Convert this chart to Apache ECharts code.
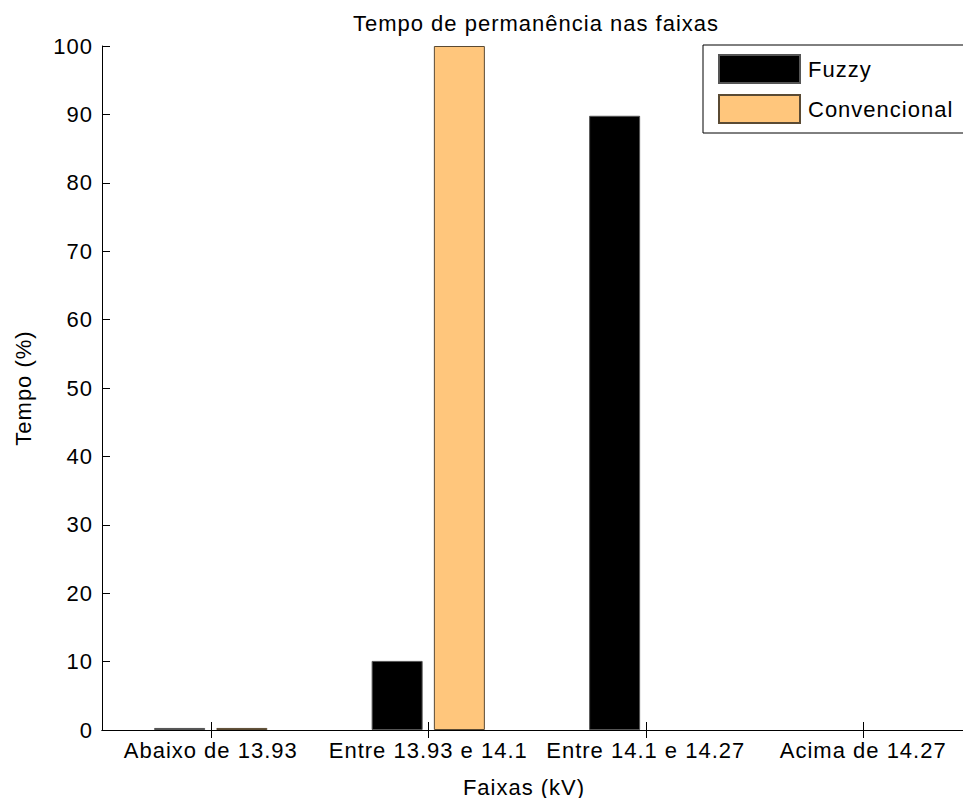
<!DOCTYPE html>
<html>
<head>
<meta charset="utf-8">
<script src="https://cdn.jsdelivr.net/npm/echarts@6/dist/echarts.min.js"></script>
<style>
html,body{margin:0;padding:0;background:#fff;overflow:hidden;}
#chart{width:963px;height:798px;}
#chart svg text{letter-spacing:1px;}
</style>
</head>
<body>
<div id="chart"></div>
<script>
const categories = ['Abaixo de 13.93', 'Entre 13.93 e 14.1', 'Entre 14.1 e 14.27', 'Acima de 14.27'];
const fuzzyValues = [0.3, 10.1, 89.8, 0];
const convencionalValues = [0.3, 100, 0, 0];
const seriesNames = ['Fuzzy', 'Convencional'];
const titleText = 'Tempo de permanência nas faixas';
const xAxisTitle = 'Faixas (kV)';
const yAxisTitle = 'Tempo (%)';

const FONT = 'Liberation Sans, Arial, Helvetica, sans-serif';
const FS = 22;
const chart = echarts.init(document.getElementById('chart'), null, {renderer: 'svg'});
const axisLine = {show: true, lineStyle: {color: '#000', width: 1}};
// zero-height bars draw no outline
const toData = vals => vals.map(v => v === 0 ? {value: v, itemStyle: {borderWidth: 0}} : v);
chart.setOption({
  animation: false,
  backgroundColor: '#fff',
  title: {
    text: titleText, left: 531, top: 7, textAlign: 'center',
    textStyle: {fontFamily: FONT, fontSize: FS, fontWeight: 'normal', color: '#000'}
  },
  legend: {
    orient: 'vertical', left: 703, top: 45,
    padding: [9, 40, 9, 15], itemGap: 10, itemWidth: 81, itemHeight: 28,
    backgroundColor: '#fff', borderColor: '#000', borderWidth: 1,
    textStyle: {fontFamily: FONT, fontSize: FS, color: '#000', padding: [0, 0, 0, 3]},
    icon: 'rect', data: seriesNames
  },
  grid: {left: 102, top: 46, width: 870, height: 684, containLabel: false, outerBoundsMode: 'none'},
  xAxis: [{
    type: 'category', data: categories, position: 'bottom',
    axisLine: axisLine,
    axisTick: {show: true, inside: true, length: 8, alignWithLabel: true, lineStyle: {color: '#000'}},
    axisLabel: {fontFamily: FONT, fontSize: FS, color: '#000', margin: 9, interval: 0},
    name: xAxisTitle, nameLocation: 'middle', nameGap: 46,
    nameTextStyle: {fontFamily: FONT, fontSize: FS, color: '#000', padding: [0, 26, 0, 0]},
    splitLine: {show: false}
  }, {
    type: 'category', data: categories, position: 'top',
    axisLine: axisLine,
    axisTick: {show: true, inside: true, length: 8, alignWithLabel: true, lineStyle: {color: '#000'}},
    axisLabel: {show: false}, splitLine: {show: false}
  }],
  yAxis: [{
    type: 'value', min: 0, max: 100, interval: 10, position: 'left',
    axisLine: axisLine,
    axisTick: {show: true, inside: true, length: 8, lineStyle: {color: '#000'}},
    axisLabel: {fontFamily: FONT, fontSize: FS, color: '#000', margin: 9},
    name: yAxisTitle, nameLocation: 'middle', nameGap: 68, nameRotate: 90,
    nameTextStyle: {fontFamily: FONT, fontSize: FS, color: '#000'},
    splitLine: {show: false}
  }, {
    type: 'value', min: 0, max: 100, interval: 10, position: 'right',
    axisLine: axisLine,
    axisTick: {show: true, inside: true, length: 8, lineStyle: {color: '#000'}},
    axisLabel: {show: false}, splitLine: {show: false}
  }],
  series: [{
    name: seriesNames[0], type: 'bar', data: toData(fuzzyValues),
    barWidth: 51, barGap: '22%',
    itemStyle: {color: '#000', borderColor: '#555', borderWidth: 1}
  }, {
    name: seriesNames[1], type: 'bar', data: toData(convencionalValues),
    barWidth: 51, barGap: '22%',
    itemStyle: {color: '#FFC67C', borderColor: '#5a4a33', borderWidth: 1}
  }]
});
</script>
</body>
</html>
